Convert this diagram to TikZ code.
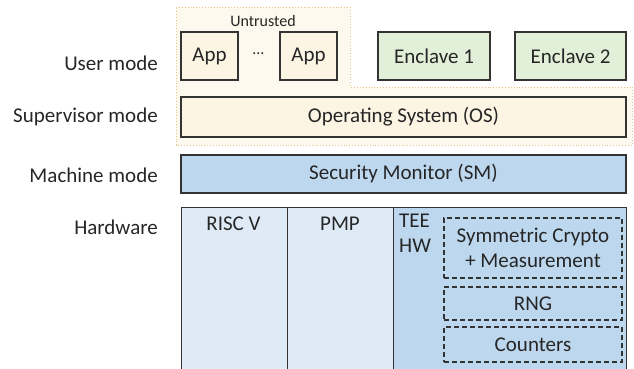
\documentclass[tikz,border=0pt]{standalone}
\usepackage{fontspec}
\setmainfont{Carlito}
\definecolor{txt}{HTML}{262626}
\definecolor{edge}{HTML}{333333}
\definecolor{cream}{HTML}{FDF5E4}
\definecolor{region}{HTML}{FEF9EE}
\definecolor{regionedge}{HTML}{E2C68C}
\definecolor{green}{HTML}{E2F0D9}
\definecolor{blue}{HTML}{BDD7EE}
\definecolor{lblue}{HTML}{DEEBF7}
\tikzset{
  box/.style={draw=edge, line width=1.3pt, text=txt, inner sep=0pt, font=\fontsize{21}{25}\selectfont},
  dbox/.style={draw=edge, line width=1.1pt, dash pattern=on 5pt off 3pt, inner sep=0pt, text=txt, font=\fontsize{21}{25}\selectfont, align=center},
  lab/.style={text=txt, anchor=east, inner sep=0pt, font=\fontsize{21}{25}\selectfont},
  plain/.style={text=txt, inner sep=0pt, font=\fontsize{21}{25}\selectfont},
}
\begin{document}
\begin{tikzpicture}[x=1pt,y=-1pt]
\useasboundingbox (0,0) rectangle (634,369);
\begin{scope}
\clip (0,0) rectangle (634,369);
% untrusted region
\draw[fill=region, draw=regionedge, line width=0.9pt, dotted] (176,7) -- (350,7) -- (350,87) -- (632,87) -- (632,145) -- (176,145) -- cycle;
\node[text=txt, font=\fontsize{16}{18}\selectfont, inner sep=0pt] (untr) at (263,21) {Untrusted};
% user mode
\node[box, fill=cream, minimum width=57pt, minimum height=48pt] (app1) at (209.5,56) {App};
\node[text=txt, font=\fontsize{16}{18}\selectfont, inner sep=0pt] (dots) at (258.5,54) {\dots};
\node[box, fill=cream, minimum width=57pt, minimum height=48pt] (app2) at (308.5,56) {App};
\node[box, fill=green, minimum width=112pt, minimum height=48pt] (enc1) at (434,56) {Enclave 1};
\node[box, fill=green, minimum width=111pt, minimum height=48pt] (enc2) at (570.5,56) {Enclave 2};
% OS
\node[box, fill=cream, minimum width=445pt, minimum height=40pt] (os) at (403.5,117) {Operating System (OS)};
% SM
\node[box, fill=blue, minimum width=445pt, minimum height=38pt] (sm) at (403.5,174) {Security Monitor (SM)};
% hardware
\node[box, fill=lblue, minimum width=106pt, minimum height=175pt, anchor=north west] (risc) at (181,207) {};
\node[box, fill=lblue, minimum width=106pt, minimum height=175pt, anchor=north west] (pmp) at (287,207) {};
\node[box, fill=blue, minimum width=233pt, minimum height=175pt, anchor=north west] (tee) at (393,207) {};
\node[plain] (risclab) at (233.5,224) {RISC V};
\node[plain] (pmplab) at (340,224) {PMP};
\node[plain, align=left, anchor=north west] (teelab) at (399,214) {TEE\\HW};
\node[dbox, minimum width=178pt, minimum height=60pt] (crypto) at (533,248) {Symmetric Crypto\\+ Measurement};
\node[dbox, minimum width=178pt, minimum height=33pt] (rng) at (533,303.5) {RNG};
\node[dbox, minimum width=178pt, minimum height=35pt] (cnt) at (533,344.5) {Counters};
\end{scope}
% left labels
\node[lab] (l1) at (158,63) {User mode};
\node[lab] (l2) at (158,117) {Supervisor mode};
\node[lab] (l3) at (158,175) {Machine mode};
\node[lab] (l4) at (158,227) {Hardware};
\end{tikzpicture}
\end{document}
